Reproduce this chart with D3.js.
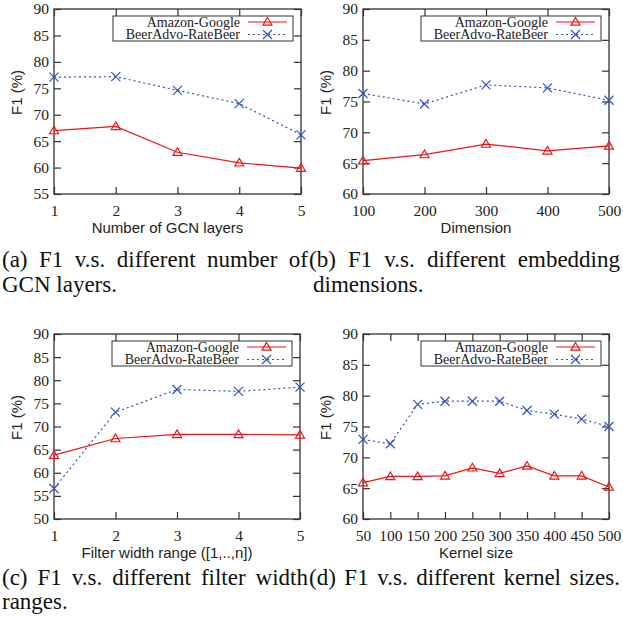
<!DOCTYPE html>
<html>
<head>
<meta charset="utf-8">
<script src="https://cdn.jsdelivr.net/npm/d3@7"></script>
<style>
    body { margin: 0; background: #fff; }
    .tick text { font-family: "Times New Roman", "Liberation Serif", Times, serif; font-size: 15.5px; fill: #222; }
    .axis-title { font-family: Arial, "Liberation Sans", Helvetica, sans-serif; font-size: 15px; fill: #222; }
    .legend-label { font-family: "Times New Roman", "Liberation Serif", Times, serif; font-size: 14px; fill: #222; }
    .caption { font-family: "Times New Roman", "Liberation Serif", Times, serif; font-size: 23px; fill: #111; }
</style>
</head>
<body>
<svg id="chart" width="623" height="624"></svg>
<script>
// (a) number of GCN layers
const layersX = [1, 2, 3, 4, 5]
const layersAmazon = [67.0, 67.8, 62.9, 60.9, 59.9]
const layersBeer = [77.1, 77.2, 74.6, 72.1, 66.2]
// (b) embedding dimension
const dimX = [100, 200, 300, 400, 500]
const dimAmazon = [65.4, 66.4, 68.1, 67.0, 67.8]
const dimBeer = [76.3, 74.6, 77.7, 77.2, 75.2]
// (c) filter width range
const filterX = [1, 2, 3, 4, 5]
const filterAmazon = [63.8, 67.4, 68.3, 68.3, 68.2]
const filterBeer = [56.6, 73.1, 78.0, 77.6, 78.5]
// (d) kernel size
const kernelX = [50, 100, 150, 200, 250, 300, 350, 400, 450, 500]
const kernelAmazon = [65.9, 66.9, 66.9, 67.0, 68.3, 67.4, 68.6, 67.0, 67.0, 65.2]
const kernelBeer = [72.9, 72.2, 78.6, 79.1, 79.1, 79.1, 77.6, 77.0, 76.2, 75.0]

const seriesNames = ['Amazon-Google', 'BeerAdvo-RateBeer']
const yTicksA = [55, 60, 65, 70, 75, 80, 85, 90]
const yTicksB = [60, 65, 70, 75, 80, 85, 90]
const yTicksC = [50, 55, 60, 65, 70, 75, 80, 85, 90]
const yTicksD = [60, 65, 70, 75, 80, 85, 90]

const xTitles = ['Number of GCN layers', 'Dimension', 'Filter width range ([1,..,n])', 'Kernel size']
const captionsFirst = [
    '(a) F1 v.s. different number of',
    '(b) F1 v.s. different embedding',
    '(c) F1 v.s. different filter width',
    '(d) F1 v.s. different kernel sizes.'
]
const captionsSecond = ['GCN layers.', 'dimensions.', 'ranges.', '']

const red = '#f01414'
const blue = '#3352c0'

const panels = [
    { x: layersX, a: layersAmazon, b: layersBeer, yTicks: yTicksA, left: 54, right: 301, top: 9, bottom: 194 },
    { x: dimX, a: dimAmazon, b: dimBeer, yTicks: yTicksB, left: 363, right: 609, top: 9, bottom: 194 },
    { x: filterX, a: filterAmazon, b: filterBeer, yTicks: yTicksC, left: 54, right: 300, top: 334, bottom: 519 },
    { x: kernelX, a: kernelAmazon, b: kernelBeer, yTicks: yTicksD, left: 363, right: 609, top: 334, bottom: 519 },
]

const svg = d3.select('#chart')
const frameColour = '#333'

function triangle(g, x, y) {
    g.append('path')
        .attr('d', `M${x},${y - 4.5} L${x + 4.5},${y + 3.2} L${x - 4.5},${y + 3.2} Z`)
        .attr('fill', 'none').attr('stroke', red).attr('stroke-width', 1.2)
}
function cross(g, x, y) {
    g.append('path')
        .attr('d', `M${x - 4.5},${y - 4.5} L${x + 4.5},${y + 4.5} M${x - 4.5},${y + 4.5} L${x + 4.5},${y - 4.5}`)
        .attr('fill', 'none').attr('stroke', blue).attr('stroke-width', 1.2)
}

panels.forEach((p, i) => {
    const g = svg.append('g')
    const xScale = d3.scaleLinear().domain(d3.extent(p.x)).range([p.left, p.right])
    const yScale = d3.scaleLinear().domain(d3.extent(p.yTicks)).range([p.bottom, p.top])

    // axes, ticks pointing inward
    const styleAxis = sel => {
        sel.select('.domain').remove()
        sel.selectAll('line').attr('stroke', frameColour).attr('stroke-width', 1.2)
        sel.attr('font-family', null).attr('font-size', null)
    }
    g.append('g').attr('transform', `translate(${p.left},0)`)
        .call(d3.axisLeft(yScale).tickValues(p.yTicks).tickFormat(d3.format('d')).tickSize(-7).tickPadding(5))
        .call(styleAxis)
    g.append('g').attr('transform', `translate(${p.right},0)`)
        .call(d3.axisRight(yScale).tickValues(p.yTicks).tickSize(-7).tickFormat(''))
        .call(styleAxis)
    g.append('g').attr('transform', `translate(0,${p.bottom})`)
        .call(d3.axisBottom(xScale).tickValues(p.x).tickFormat(d3.format('d')).tickSize(-7).tickPadding(11))
        .call(styleAxis)
    g.append('g').attr('transform', `translate(0,${p.top})`)
        .call(d3.axisTop(xScale).tickValues(p.x).tickSize(-7).tickFormat(''))
        .call(styleAxis)

    g.append('rect')
        .attr('x', p.left).attr('y', p.top)
        .attr('width', p.right - p.left).attr('height', p.bottom - p.top)
        .attr('fill', 'none').attr('stroke', frameColour).attr('stroke-width', 1.3)

    // axis titles
    g.append('text').attr('class', 'axis-title')
        .attr('x', (p.left + p.right) / 2 - 10).attr('y', p.bottom + 39)
        .attr('text-anchor', 'middle').text(xTitles[i])
    g.append('text').attr('class', 'axis-title')
        .attr('transform', `translate(${p.left - 32},${(p.top + p.bottom) / 2 - 9}) rotate(-90)`)
        .attr('text-anchor', 'middle').text('F1 (%)')

    // series
    const line = d3.line().x(d => xScale(d[0])).y(d => yScale(d[1]))
    g.append('path').datum(p.x.map((v, k) => [v, p.a[k]]))
        .attr('d', line).attr('fill', 'none').attr('stroke', red).attr('stroke-width', 1.2)
    g.append('path').datum(p.x.map((v, k) => [v, p.b[k]]))
        .attr('d', line).attr('fill', 'none').attr('stroke', blue).attr('stroke-width', 1.2)
        .attr('stroke-dasharray', '2,3')
    p.x.forEach((v, k) => {
        triangle(g, xScale(v), yScale(p.a[k]))
        cross(g, xScale(v), yScale(p.b[k]))
    })

    // legend
    const boxRight = p.right - 8
    const boxTop = p.top + 7
    const legend = g.append('g')
    legend.append('rect')
        .attr('x', boxRight - 180).attr('y', boxTop)
        .attr('width', 180).attr('height', 25)
        .attr('fill', '#fff').attr('stroke', frameColour).attr('stroke-width', 1)
    seriesNames.forEach((name, k) => {
        const cy = boxTop + 6 + k * 12.5
        legend.append('text').attr('class', 'legend-label')
            .attr('x', boxRight - 53).attr('y', cy + 4.5)
            .attr('text-anchor', 'end').text(name)
        const seg = legend.append('line')
            .attr('x1', boxRight - 45).attr('x2', boxRight - 6)
            .attr('y1', cy).attr('y2', cy)
            .attr('stroke', k === 0 ? red : blue).attr('stroke-width', 1.2)
        if (k === 1) seg.attr('stroke-dasharray', '2,3')
        if (k === 0) triangle(legend, boxRight - 25.5, cy)
        else cross(legend, boxRight - 25.5, cy)
    })
})

// captions, first line justified across its column
const captionRows = [[267, 292], [585, 609]]
const columns = [[2, 308], [309, 620]]
captionsFirst.forEach((text, i) => {
    const row = captionRows[Math.floor(i / 2)]
    const col = columns[i % 2]
    const t = svg.append('text').attr('class', 'caption')
        .attr('x', col[0]).attr('y', row[0]).text(text)
    const natural = t.node().getComputedTextLength()
    const gaps = text.split(' ').length - 1
    const extra = (col[1] - col[0] - natural) / gaps
    if (extra > 0) t.attr('word-spacing', extra)
    if (captionsSecond[i])
        svg.append('text').attr('class', 'caption')
            .attr('x', col[0] + (i % 2) * 4).attr('y', row[1]).text(captionsSecond[i])
})
</script>
</body>
</html>
